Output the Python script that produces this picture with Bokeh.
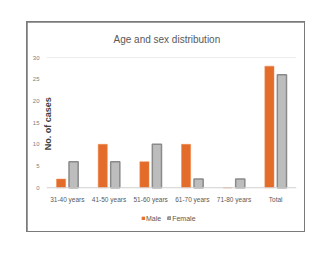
from bokeh.plotting import figure
from bokeh.models import ColumnDataSource, FactorRange, Span, Legend, LegendItem
from bokeh.transform import dodge
from bokeh.embed import file_html
from bokeh.resources import INLINE

categories = ["31-40 years", "41-50 years", "51-60 years", "61-70 years", "71-80 years", "Total"]
male = [2, 10, 6, 10, 0, 28]
female = [6, 6, 10, 2, 2, 26]
yticks = [0, 5, 10, 15, 20, 25, 30]

src = ColumnDataSource(dict(cat=categories, male=male, female=female))

p = figure(width=277, height=209, x_range=FactorRange(*categories), y_range=(-9.16, 30),
           output_backend="svg", toolbar_location=None, x_axis_location=None,
           min_border_left=19, min_border_right=8, min_border_top=34, min_border_bottom=4,
           title="Age and sex distribution")
p.margin = (22, 0, 0, 27)
p.styles = {"outline": "2px solid #7a7a7a", "outline-offset": "-1px"}
p.outline_line_color = None
p.background_fill_color = "white"
p.border_fill_color = "white"

p.title.align = "left"
p.title.vertical_align = "top"
p.title.text_font = "Liberation Sans"
p.title.text_font_style = "normal"
p.title.text_font_size = "10px"
p.title.text_color = "#595959"
p.title.offset = 67
p.title.standoff = 22

m = p.vbar(x=dodge("cat", -0.15, range=p.x_range), top="male", width=0.22, source=src,
           fill_color="#e46c2a", line_color="#f08a50", line_width=0.5)
f = p.vbar(x=dodge("cat", 0.15, range=p.x_range), top="female", width=0.22, source=src,
           fill_color="#bdbdbd", line_color="#8a8a8a", line_width=1.5)

p.text(x="cat", y=0, text="cat", source=src, y_offset=12, text_align="center",
       text_baseline="middle", text_font_size="6.5px", text_color="#595959")

p.xgrid.grid_line_color = None
p.ygrid.grid_line_color = None
p.add_layout(Span(location=30, dimension="width", line_color="#d9d9d9", line_width=1))
p.add_layout(Span(location=0, dimension="width", line_color="#d0d0d0", line_width=1))

p.yaxis.ticker = yticks
p.yaxis.axis_line_color = None
p.yaxis.major_tick_line_color = None
p.yaxis.minor_tick_line_color = None
p.yaxis.major_label_text_font_size = "6px"
p.yaxis.major_label_text_color = "#808080"
p.yaxis.major_label_standoff = 1
p.yaxis.axis_label = "\u00a0" * 15 + "No. of cases"
p.yaxis.axis_label_text_font_size = "9px"
p.yaxis.axis_label_text_font_style = "bold"
p.yaxis.axis_label_text_color = "#404040"
p.yaxis.axis_label_standoff = -23

legend = Legend(items=[LegendItem(label="Male", renderers=[m]),
                       LegendItem(label="Female", renderers=[f])],
                orientation="horizontal", location=(95, 5),
                label_text_font_size="7px", label_text_color="#595959",
                glyph_width=4, glyph_height=4, label_height=8, label_width=8,
                spacing=6, padding=0, margin=0,
                label_standoff=1, border_line_color=None, background_fill_alpha=0)
p.add_layout(legend)

open("out.html", "w").write(file_html(p, INLINE))
